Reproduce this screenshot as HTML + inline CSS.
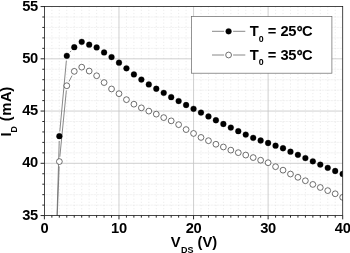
<!DOCTYPE html>
<html><head><meta charset="utf-8"><title>ID vs VDS</title>
<style>html,body{margin:0;padding:0;background:#fff;overflow:hidden}body{width:350px;height:253px;position:relative}</style></head>
<body>
<svg width="350" height="253" viewBox="0 0 350 253" style="display:block;position:absolute;left:0;top:0">
<rect width="350" height="253" fill="#fff"/>
<path d="M51.86 6.55V215.55M59.31 6.55V215.55M66.77 6.55V215.55M74.23 6.55V215.55M81.69 6.55V215.55M89.15 6.55V215.55M96.60 6.55V215.55M104.06 6.55V215.55M111.52 6.55V215.55M126.43 6.55V215.55M133.89 6.55V215.55M141.35 6.55V215.55M148.81 6.55V215.55M156.26 6.55V215.55M163.72 6.55V215.55M171.18 6.55V215.55M178.64 6.55V215.55M186.09 6.55V215.55M201.01 6.55V215.55M208.47 6.55V215.55M215.92 6.55V215.55M223.38 6.55V215.55M230.84 6.55V215.55M238.30 6.55V215.55M245.75 6.55V215.55M253.21 6.55V215.55M260.67 6.55V215.55M275.58 6.55V215.55M283.04 6.55V215.55M290.50 6.55V215.55M297.95 6.55V215.55M305.41 6.55V215.55M312.87 6.55V215.55M320.33 6.55V215.55M327.78 6.55V215.55M335.24 6.55V215.55" stroke="#dcdcdc" stroke-width="0.55" stroke-dasharray="1.2 2" fill="none"/>
<path d="M44.4 205.10H342.7M44.4 194.65H342.7M44.4 184.20H342.7M44.4 173.75H342.7M44.4 152.85H342.7M44.4 142.40H342.7M44.4 131.95H342.7M44.4 121.50H342.7M44.4 100.60H342.7M44.4 90.15H342.7M44.4 79.70H342.7M44.4 69.25H342.7M44.4 48.35H342.7M44.4 37.90H342.7M44.4 27.45H342.7M44.4 17.00H342.7" stroke="#dadada" stroke-width="0.55" stroke-dasharray="0.8 0.7" fill="none"/>
<path d="M118.97 6.55V215.55M193.55 6.55V215.55M268.12 6.55V215.55M44.4 163.30H342.7M44.4 111.05H342.7M44.4 58.80H342.7" stroke="#c4c4c4" stroke-width="0.8" fill="none"/>
<clipPath id="c"><rect x="44.4" y="6.55" width="298.3" height="209.0"/></clipPath>
<g clip-path="url(#c)">
<path d="M52.05 383.14L59.22 140.97M59.80 131.40L66.37 60.60M69.96 52.20L71.13 50.85" fill="none" stroke="#6a6a6a" stroke-width="0.8"/>
<path d="M52.09 347.47L59.17 166.36M59.83 156.78L66.35 90.50M69.03 81.46L72.06 75.61M100.18 78.99L100.55 79.33" fill="none" stroke="#6a6a6a" stroke-width="0.8"/>
<circle cx="51.91" cy="387.94" r="2.9" fill="#000" stroke="#000" stroke-width="0.3"/>
<circle cx="59.36" cy="136.18" r="2.9" fill="#000" stroke="#000" stroke-width="0.3"/>
<circle cx="66.81" cy="55.82" r="2.9" fill="#000" stroke="#000" stroke-width="0.3"/>
<circle cx="74.27" cy="47.22" r="2.9" fill="#000" stroke="#000" stroke-width="0.3"/>
<circle cx="81.72" cy="41.87" r="2.9" fill="#000" stroke="#000" stroke-width="0.3"/>
<circle cx="89.18" cy="44.70" r="2.9" fill="#000" stroke="#000" stroke-width="0.3"/>
<circle cx="96.64" cy="47.43" r="2.9" fill="#000" stroke="#000" stroke-width="0.3"/>
<circle cx="104.09" cy="52.47" r="2.9" fill="#000" stroke="#000" stroke-width="0.3"/>
<circle cx="111.55" cy="57.08" r="2.9" fill="#000" stroke="#000" stroke-width="0.3"/>
<circle cx="119.00" cy="62.64" r="2.9" fill="#000" stroke="#000" stroke-width="0.3"/>
<circle cx="126.45" cy="68.31" r="2.9" fill="#000" stroke="#000" stroke-width="0.3"/>
<circle cx="133.91" cy="74.39" r="2.9" fill="#000" stroke="#000" stroke-width="0.3"/>
<circle cx="141.37" cy="79.53" r="2.9" fill="#000" stroke="#000" stroke-width="0.3"/>
<circle cx="148.82" cy="84.46" r="2.9" fill="#000" stroke="#000" stroke-width="0.3"/>
<circle cx="156.28" cy="88.76" r="2.9" fill="#000" stroke="#000" stroke-width="0.3"/>
<circle cx="163.73" cy="92.85" r="2.9" fill="#000" stroke="#000" stroke-width="0.3"/>
<circle cx="171.19" cy="97.15" r="2.9" fill="#000" stroke="#000" stroke-width="0.3"/>
<circle cx="178.64" cy="101.03" r="2.9" fill="#000" stroke="#000" stroke-width="0.3"/>
<circle cx="186.10" cy="105.02" r="2.9" fill="#000" stroke="#000" stroke-width="0.3"/>
<circle cx="193.55" cy="108.80" r="2.9" fill="#000" stroke="#000" stroke-width="0.3"/>
<circle cx="201.00" cy="112.57" r="2.9" fill="#000" stroke="#000" stroke-width="0.3"/>
<circle cx="208.46" cy="116.45" r="2.9" fill="#000" stroke="#000" stroke-width="0.3"/>
<circle cx="215.92" cy="120.23" r="2.9" fill="#000" stroke="#000" stroke-width="0.3"/>
<circle cx="223.37" cy="124.01" r="2.9" fill="#000" stroke="#000" stroke-width="0.3"/>
<circle cx="230.82" cy="127.57" r="2.9" fill="#000" stroke="#000" stroke-width="0.3"/>
<circle cx="238.28" cy="131.14" r="2.9" fill="#000" stroke="#000" stroke-width="0.3"/>
<circle cx="245.74" cy="134.60" r="2.9" fill="#000" stroke="#000" stroke-width="0.3"/>
<circle cx="253.19" cy="137.85" r="2.9" fill="#000" stroke="#000" stroke-width="0.3"/>
<circle cx="260.64" cy="140.48" r="2.9" fill="#000" stroke="#000" stroke-width="0.3"/>
<circle cx="268.10" cy="142.99" r="2.9" fill="#000" stroke="#000" stroke-width="0.3"/>
<circle cx="275.56" cy="145.72" r="2.9" fill="#000" stroke="#000" stroke-width="0.3"/>
<circle cx="283.01" cy="148.24" r="2.9" fill="#000" stroke="#000" stroke-width="0.3"/>
<circle cx="290.47" cy="151.70" r="2.9" fill="#000" stroke="#000" stroke-width="0.3"/>
<circle cx="297.92" cy="154.85" r="2.9" fill="#000" stroke="#000" stroke-width="0.3"/>
<circle cx="305.38" cy="158.10" r="2.9" fill="#000" stroke="#000" stroke-width="0.3"/>
<circle cx="312.83" cy="161.35" r="2.9" fill="#000" stroke="#000" stroke-width="0.3"/>
<circle cx="320.28" cy="164.60" r="2.9" fill="#000" stroke="#000" stroke-width="0.3"/>
<circle cx="327.74" cy="167.86" r="2.9" fill="#000" stroke="#000" stroke-width="0.3"/>
<circle cx="335.19" cy="171.00" r="2.9" fill="#000" stroke="#000" stroke-width="0.3"/>
<circle cx="342.65" cy="173.94" r="2.9" fill="#000" stroke="#000" stroke-width="0.3"/>
<circle cx="51.91" cy="352.27" r="2.9" fill="#fff" stroke="#333" stroke-width="0.7"/>
<circle cx="59.36" cy="161.56" r="2.9" fill="#fff" stroke="#333" stroke-width="0.7"/>
<circle cx="66.81" cy="85.72" r="2.9" fill="#fff" stroke="#333" stroke-width="0.7"/>
<circle cx="74.27" cy="71.35" r="2.9" fill="#fff" stroke="#333" stroke-width="0.7"/>
<circle cx="81.72" cy="67.15" r="2.9" fill="#fff" stroke="#333" stroke-width="0.7"/>
<circle cx="89.18" cy="71.03" r="2.9" fill="#fff" stroke="#333" stroke-width="0.7"/>
<circle cx="96.64" cy="75.75" r="2.9" fill="#fff" stroke="#333" stroke-width="0.7"/>
<circle cx="104.09" cy="82.57" r="2.9" fill="#fff" stroke="#333" stroke-width="0.7"/>
<circle cx="111.55" cy="88.97" r="2.9" fill="#fff" stroke="#333" stroke-width="0.7"/>
<circle cx="119.00" cy="93.69" r="2.9" fill="#fff" stroke="#333" stroke-width="0.7"/>
<circle cx="126.45" cy="99.67" r="2.9" fill="#fff" stroke="#333" stroke-width="0.7"/>
<circle cx="133.91" cy="104.18" r="2.9" fill="#fff" stroke="#333" stroke-width="0.7"/>
<circle cx="141.37" cy="107.85" r="2.9" fill="#fff" stroke="#333" stroke-width="0.7"/>
<circle cx="148.82" cy="111.10" r="2.9" fill="#fff" stroke="#333" stroke-width="0.7"/>
<circle cx="156.28" cy="114.15" r="2.9" fill="#fff" stroke="#333" stroke-width="0.7"/>
<circle cx="163.73" cy="117.61" r="2.9" fill="#fff" stroke="#333" stroke-width="0.7"/>
<circle cx="171.19" cy="120.86" r="2.9" fill="#fff" stroke="#333" stroke-width="0.7"/>
<circle cx="178.64" cy="124.64" r="2.9" fill="#fff" stroke="#333" stroke-width="0.7"/>
<circle cx="186.10" cy="129.57" r="2.9" fill="#fff" stroke="#333" stroke-width="0.7"/>
<circle cx="193.55" cy="133.45" r="2.9" fill="#fff" stroke="#333" stroke-width="0.7"/>
<circle cx="201.00" cy="137.43" r="2.9" fill="#fff" stroke="#333" stroke-width="0.7"/>
<circle cx="208.46" cy="140.69" r="2.9" fill="#fff" stroke="#333" stroke-width="0.7"/>
<circle cx="215.92" cy="144.25" r="2.9" fill="#fff" stroke="#333" stroke-width="0.7"/>
<circle cx="223.37" cy="146.98" r="2.9" fill="#fff" stroke="#333" stroke-width="0.7"/>
<circle cx="230.82" cy="150.13" r="2.9" fill="#fff" stroke="#333" stroke-width="0.7"/>
<circle cx="238.28" cy="152.65" r="2.9" fill="#fff" stroke="#333" stroke-width="0.7"/>
<circle cx="245.74" cy="155.06" r="2.9" fill="#fff" stroke="#333" stroke-width="0.7"/>
<circle cx="253.19" cy="157.58" r="2.9" fill="#fff" stroke="#333" stroke-width="0.7"/>
<circle cx="260.64" cy="160.20" r="2.9" fill="#fff" stroke="#333" stroke-width="0.7"/>
<circle cx="268.10" cy="162.72" r="2.9" fill="#fff" stroke="#333" stroke-width="0.7"/>
<circle cx="275.56" cy="166.70" r="2.9" fill="#fff" stroke="#333" stroke-width="0.7"/>
<circle cx="283.01" cy="170.16" r="2.9" fill="#fff" stroke="#333" stroke-width="0.7"/>
<circle cx="290.47" cy="174.04" r="2.9" fill="#fff" stroke="#333" stroke-width="0.7"/>
<circle cx="297.92" cy="177.30" r="2.9" fill="#fff" stroke="#333" stroke-width="0.7"/>
<circle cx="305.38" cy="180.76" r="2.9" fill="#fff" stroke="#333" stroke-width="0.7"/>
<circle cx="312.83" cy="184.43" r="2.9" fill="#fff" stroke="#333" stroke-width="0.7"/>
<circle cx="320.28" cy="187.47" r="2.9" fill="#fff" stroke="#333" stroke-width="0.7"/>
<circle cx="327.74" cy="190.62" r="2.9" fill="#fff" stroke="#333" stroke-width="0.7"/>
<circle cx="335.19" cy="193.77" r="2.9" fill="#fff" stroke="#333" stroke-width="0.7"/>
<circle cx="342.65" cy="197.33" r="2.9" fill="#fff" stroke="#333" stroke-width="0.7"/>
</g>
<path d="M44.40 215.55v3.8M51.86 215.55v2.1M59.31 215.55v2.1M66.77 215.55v2.1M74.23 215.55v2.1M81.69 215.55v2.1M89.15 215.55v2.1M96.60 215.55v2.1M104.06 215.55v2.1M111.52 215.55v2.1M118.97 215.55v3.8M126.43 215.55v2.1M133.89 215.55v2.1M141.35 215.55v2.1M148.81 215.55v2.1M156.26 215.55v2.1M163.72 215.55v2.1M171.18 215.55v2.1M178.64 215.55v2.1M186.09 215.55v2.1M193.55 215.55v3.8M201.01 215.55v2.1M208.47 215.55v2.1M215.92 215.55v2.1M223.38 215.55v2.1M230.84 215.55v2.1M238.30 215.55v2.1M245.75 215.55v2.1M253.21 215.55v2.1M260.67 215.55v2.1M268.12 215.55v3.8M275.58 215.55v2.1M283.04 215.55v2.1M290.50 215.55v2.1M297.95 215.55v2.1M305.41 215.55v2.1M312.87 215.55v2.1M320.33 215.55v2.1M327.78 215.55v2.1M335.24 215.55v2.1M342.70 215.55v3.8M44.4 215.55h-3.8M44.4 205.10h-2.1M44.4 194.65h-2.1M44.4 184.20h-2.1M44.4 173.75h-2.1M44.4 163.30h-3.8M44.4 152.85h-2.1M44.4 142.40h-2.1M44.4 131.95h-2.1M44.4 121.50h-2.1M44.4 111.05h-3.8M44.4 100.60h-2.1M44.4 90.15h-2.1M44.4 79.70h-2.1M44.4 69.25h-2.1M44.4 58.80h-3.8M44.4 48.35h-2.1M44.4 37.90h-2.1M44.4 27.45h-2.1M44.4 17.00h-2.1M44.4 6.55h-3.8" stroke="#111" stroke-width="0.9" fill="none"/>
<rect x="44.4" y="6.55" width="298.3" height="209.0" fill="none" stroke="#1a1a1a" stroke-width="0.8"/>
<text x="38.0" y="219.65" font-size="14.7" text-anchor="end" letter-spacing="-0.25" font-family="Liberation Sans, Arial, sans-serif" font-weight="bold" fill="#000">35</text>
<text x="38.0" y="167.40" font-size="14.7" text-anchor="end" letter-spacing="-0.25" font-family="Liberation Sans, Arial, sans-serif" font-weight="bold" fill="#000">40</text>
<text x="38.0" y="115.15" font-size="14.7" text-anchor="end" letter-spacing="-0.25" font-family="Liberation Sans, Arial, sans-serif" font-weight="bold" fill="#000">45</text>
<text x="38.0" y="62.90" font-size="14.7" text-anchor="end" letter-spacing="-0.25" font-family="Liberation Sans, Arial, sans-serif" font-weight="bold" fill="#000">50</text>
<text x="38.0" y="10.65" font-size="14.7" text-anchor="end" letter-spacing="-0.25" font-family="Liberation Sans, Arial, sans-serif" font-weight="bold" fill="#000">55</text>
<text x="44.40" y="233.1" font-size="14.7" text-anchor="middle" letter-spacing="-0.25" font-family="Liberation Sans, Arial, sans-serif" font-weight="bold" fill="#000">0</text>
<text x="118.97" y="233.1" font-size="14.7" text-anchor="middle" letter-spacing="-0.25" font-family="Liberation Sans, Arial, sans-serif" font-weight="bold" fill="#000">10</text>
<text x="193.55" y="233.1" font-size="14.7" text-anchor="middle" letter-spacing="-0.25" font-family="Liberation Sans, Arial, sans-serif" font-weight="bold" fill="#000">20</text>
<text x="268.12" y="233.1" font-size="14.7" text-anchor="middle" letter-spacing="-0.25" font-family="Liberation Sans, Arial, sans-serif" font-weight="bold" fill="#000">30</text>
<text x="342.70" y="233.1" font-size="14.7" text-anchor="middle" letter-spacing="-0.25" font-family="Liberation Sans, Arial, sans-serif" font-weight="bold" fill="#000">40</text>
<text x="170.8" y="246.6" font-size="14.7" font-family="Liberation Sans, Arial, sans-serif" font-weight="bold" fill="#000">V<tspan font-size="9" dy="6.0" dx="0.3">DS</tspan><tspan dy="-6.0"> (V)</tspan></text>
<text transform="translate(11.1,136.6) rotate(-90)" font-size="14.7" font-family="Liberation Sans, Arial, sans-serif" font-weight="bold" fill="#000">I<tspan font-size="8.8" dy="6.1">D</tspan><tspan dy="-6.1" dx="0.9"> (</tspan><tspan dx="0.6">m</tspan><tspan dx="0.5">A</tspan><tspan dx="-0.3">)</tspan></text>
<rect x="191.6" y="16.6" width="140.3" height="56.6" fill="#fff" stroke="#666" stroke-width="0.7"/>
<path d="M212 31.3H224.1M233.1 31.3H245.3" stroke="#6a6a6a" stroke-width="0.8"/>
<circle cx="228.6" cy="31.3" r="2.9" fill="#000" stroke="#000" stroke-width="0.3"/>
<text x="249.8" y="36.30" font-size="14.7" font-family="Liberation Sans, Arial, sans-serif" font-weight="bold" fill="#000">T<tspan font-size="8.8" dy="5.4">0</tspan><tspan dy="-5.4"> = </tspan><tspan letter-spacing="-0.3">25</tspan><tspan dy="1" dx="0.6" stroke="#000" stroke-width="0.45">°</tspan><tspan dy="-1" dx="-0.6">C</tspan></text>
<path d="M212 55.0H224.1M233.1 55.0H245.3" stroke="#6a6a6a" stroke-width="0.8"/>
<circle cx="228.6" cy="55.0" r="2.9" fill="#fff" stroke="#333" stroke-width="0.7"/>
<text x="249.8" y="60.00" font-size="14.7" font-family="Liberation Sans, Arial, sans-serif" font-weight="bold" fill="#000">T<tspan font-size="8.8" dy="5.4">0</tspan><tspan dy="-5.4"> = </tspan><tspan letter-spacing="-0.3">35</tspan><tspan dy="1" dx="0.6" stroke="#000" stroke-width="0.45">°</tspan><tspan dy="-1" dx="-0.6">C</tspan></text>
</svg>
</body></html>
